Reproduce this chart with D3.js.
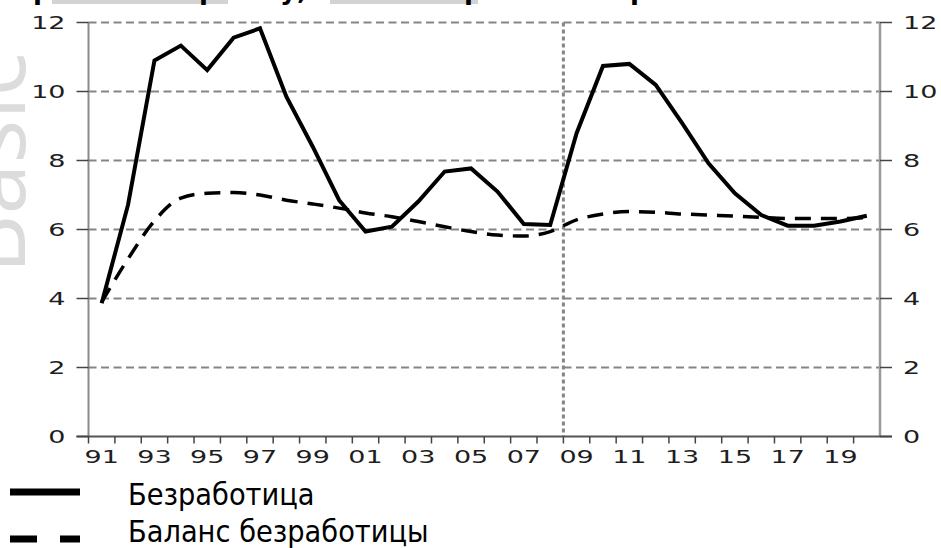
<!DOCTYPE html>
<html lang="ru">
<head>
<meta charset="utf-8">
<script src="https://cdn.jsdelivr.net/npm/d3@7"></script>
<style>
    body { margin: 0; background: #fff; }
    .tick-label { font-family: "DejaVu Sans", Verdana, sans-serif; font-size: 18px; fill: #1e1e1e; }
    .legend-text { font-family: "DejaVu Sans", Tahoma, sans-serif; font-size: 30px; fill: #000; }
</style>
</head>
<body>
<script type="text/javascript">

    var years = d3.range(1991, 2021);
    var xLabels = ["91", "93", "95", "97", "99", "01", "03", "05", "07", "09", "11", "13", "15", "17", "19"];
    var yTicks = [0, 2, 4, 6, 8, 10, 12];

    /* Безработица */
    var unemployment = [3.86, 6.72, 10.9, 11.33, 10.62, 11.56, 11.83, 9.85, 8.4, 6.85,
                        5.94, 6.08, 6.81, 7.68, 7.77, 7.10, 6.16, 6.13, 8.79, 10.74,
                        10.80, 10.19, 9.08, 7.92, 7.05, 6.42, 6.11, 6.11, 6.23, 6.40];

    /* Баланс безработицы */
    var balance = [3.9, 5.15, 6.25, 6.91, 7.05, 7.07, 7.0, 6.85, 6.74, 6.62,
                   6.48, 6.37, 6.23, 6.08, 5.94, 5.84, 5.81, 5.94, 6.28, 6.45,
                   6.52, 6.50, 6.45, 6.42, 6.39, 6.35, 6.32, 6.32, 6.32, 6.35];

    var legendNames = ["Безработица", "Баланс безработицы"];
    var breakYear = 2009;

    var svgWidth = 941;
    var svgHeight = 548;

    var svg = d3.select("body").append("svg")
            .attr("width", svgWidth)
            .attr("height", svgHeight);

    var margin = {top: 22.5, right: 61, bottom: 111.5, left: 88.5};
    var chartWidth = svgWidth - margin.left - margin.right;
    var chartHeight = svgHeight - margin.top - margin.bottom;

    // the source picture is stretched sideways, digits look wide
    var stretch = "scale(1.5,1)";

    var x = d3.scaleBand()
            .domain(years)
            .range([0, chartWidth]);

    var y = d3.scaleLinear()
            .domain([0, 12])
            .range([chartHeight, 0]);

    function cx(d, i) { return x(years[i]) + x.bandwidth() / 2; }

    /* watermark */
    svg.append("text")
            .attr("transform", "translate(25, 274) rotate(-90)")
            .style("font-family", "'Open Sans', sans-serif")
            .style("font-size", "92px")
            .style("fill", "#dcdcdc")
            .text("Basic");

    /* cut title on top */
    var titleBars = [[52, 228], [330, 478]];
    svg.selectAll("rect.title-bar")
            .data(titleBars)
            .enter()
            .append("rect")
            .attr("class", "title-bar")
            .attr("x", function(d) { return d[0]; })
            .attr("y", 0)
            .attr("width", function(d) { return d[1] - d[0]; })
            .attr("height", 4)
            .style("fill", "#d3d3d3");

    var titleBits = [[33, "р"], [199, "р"], [280, "у,"], [464, "р"], [630, "р"]];
    svg.selectAll("text.title-bit")
            .data(titleBits)
            .enter()
            .append("text")
            .attr("class", "title-bit")
            .attr("x", function(d) { return d[0]; })
            .attr("y", -1)
            .style("font-family", "'DejaVu Sans', sans-serif")
            .style("font-weight", "bold")
            .style("font-size", "26px")
            .text(function(d) { return d[1]; });

    var g = svg.append("g")
            .attr("transform", "translate(" + margin.left + ", " + margin.top + ")");

    /* horizontal dashed grid */
    g.selectAll("line.grid")
            .data(yTicks.filter(function(d) { return d > 0; }))
            .enter()
            .append("line")
            .attr("class", "grid")
            .attr("x1", 0)
            .attr("x2", chartWidth)
            .attr("y1", function(d) { return y(d); })
            .attr("y2", function(d) { return y(d); })
            .style("stroke", "#858585")
            .style("stroke-width", 2)
            .style("stroke-dasharray", "8,4.5");

    /* vertical dotted marker */
    g.append("line")
            .attr("x1", x(breakYear))
            .attr("x2", x(breakYear))
            .attr("y1", 0)
            .attr("y2", chartHeight)
            .style("stroke", "#858585")
            .style("stroke-width", 3)
            .style("stroke-dasharray", "4,3");

    /* axes lines */
    g.append("line")
            .attr("x1", 0).attr("x2", 0)
            .attr("y1", 0).attr("y2", chartHeight)
            .style("stroke", "#8a8a8a").style("stroke-width", 2);

    g.append("line")
            .attr("x1", chartWidth).attr("x2", chartWidth)
            .attr("y1", 0).attr("y2", chartHeight)
            .style("stroke", "#9a9a9a").style("stroke-width", 2.5);

    g.append("line")
            .attr("x1", -12).attr("x2", chartWidth + 12)
            .attr("y1", chartHeight).attr("y2", chartHeight)
            .style("stroke", "#555").style("stroke-width", 2);

    /* y ticks, both sides */
    g.selectAll("line.ytick-l")
            .data(yTicks)
            .enter()
            .append("line")
            .attr("x1", -12).attr("x2", 0)
            .attr("y1", function(d) { return y(d); })
            .attr("y2", function(d) { return y(d); })
            .style("stroke", "#444").style("stroke-width", 1.5);

    g.selectAll("line.ytick-r")
            .data(yTicks)
            .enter()
            .append("line")
            .attr("x1", chartWidth).attr("x2", chartWidth + 12)
            .attr("y1", function(d) { return y(d); })
            .attr("y2", function(d) { return y(d); })
            .style("stroke", "#444").style("stroke-width", 1.5);

    g.selectAll("text.ylab-l")
            .data(yTicks)
            .enter()
            .append("text")
            .attr("class", "tick-label")
            .attr("transform", function(d) { return "translate(-23," + y(d) + ") " + stretch; })
            .attr("dy", "0.36em")
            .attr("text-anchor", "end")
            .text(function(d) { return d; });

    g.selectAll("text.ylab-r")
            .data(yTicks)
            .enter()
            .append("text")
            .attr("class", "tick-label")
            .attr("transform", function(d) { return "translate(" + (chartWidth + 23) + "," + y(d) + ") " + stretch; })
            .attr("dy", "0.36em")
            .attr("text-anchor", "start")
            .text(function(d) { return d; });

    /* x ticks at category borders */
    g.selectAll("line.xtick")
            .data(years)
            .enter()
            .append("line")
            .attr("x1", function(d) { return x(d); })
            .attr("x2", function(d) { return x(d); })
            .attr("y1", chartHeight)
            .attr("y2", chartHeight + 7)
            .style("stroke", "#444").style("stroke-width", 1.5);

    g.selectAll("text.xlab")
            .data(xLabels)
            .enter()
            .append("text")
            .attr("class", "tick-label")
            .attr("transform", function(d, i) {
                return "translate(" + (x(years[i * 2]) + x.bandwidth() / 2) + "," + (chartHeight + 26) + ") " + stretch;
            })
            .attr("text-anchor", "middle")
            .text(function(d) { return d; });

    /* lines */
    var solidLine = d3.line()
            .x(cx)
            .y(function(d) { return y(d); });

    var smoothLine = d3.line()
            .x(cx)
            .y(function(d) { return y(d); })
            .curve(d3.curveMonotoneX);

    g.append("path")
            .datum(balance)
            .attr("d", smoothLine)
            .style("fill", "none")
            .style("stroke", "#000")
            .style("stroke-width", 3.5)
            .style("stroke-dasharray", "16,10");

    g.append("path")
            .datum(unemployment)
            .attr("d", solidLine)
            .style("fill", "none")
            .style("stroke", "#000")
            .style("stroke-width", 4)
            .style("stroke-linejoin", "miter");

    /* legend */
    var legend = svg.append("g");

    legend.append("line")
            .attr("x1", 10).attr("x2", 80)
            .attr("y1", 492).attr("y2", 492)
            .style("stroke", "#000").style("stroke-width", 7);

    legend.append("line")
            .attr("x1", 10).attr("x2", 80)
            .attr("y1", 539).attr("y2", 539)
            .style("stroke", "#000").style("stroke-width", 7)
            .style("stroke-dasharray", "27,23");

    legend.selectAll("text")
            .data(legendNames)
            .enter()
            .append("text")
            .attr("class", "legend-text")
            .attr("transform", function(d, i) { return "translate(128," + (505 + i * 37) + ") scale(0.91,1)"; })
            .text(function(d) { return d; });

</script>
</body>
</html>
